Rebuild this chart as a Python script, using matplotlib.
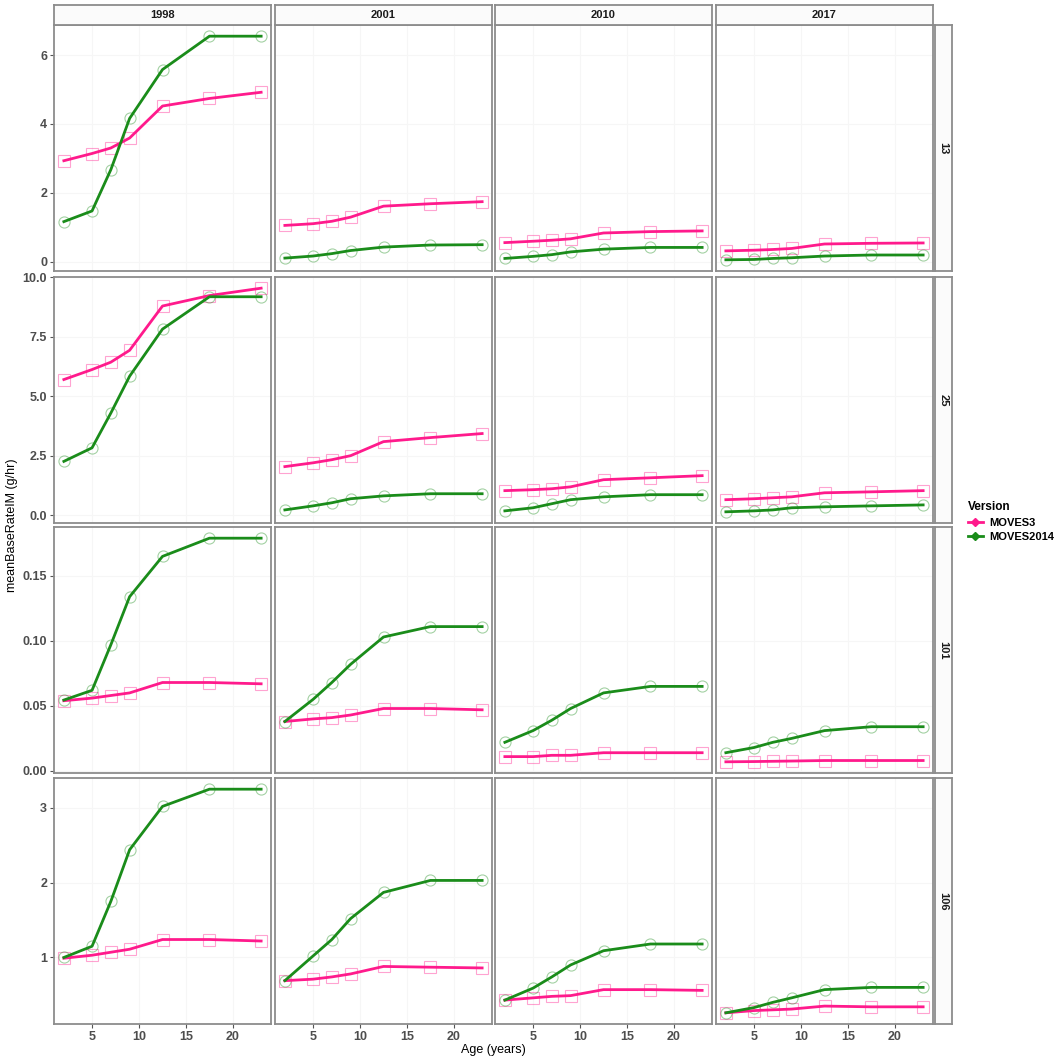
import matplotlib
matplotlib.use("Agg")
import matplotlib.pyplot as plt
from matplotlib.lines import Line2D
from matplotlib.ticker import FormatStrFormatter

plt.rcParams['font.family'] = ['Liberation Sans', 'DejaVu Sans']

# age group (x) and facet labels
ages = [2, 5, 7, 9, 12.5, 17.5, 23]
years = ['1998', '2001', '2010', '2017']
rows = ['13', '25', '101', '106']

# MOVES3 values, one list per model year (1998, 2001, 2010, 2017)
m3_13 = [[2.93, 3.14, 3.30, 3.59, 4.52, 4.74, 4.92],
         [1.05, 1.10, 1.17, 1.29, 1.61, 1.68, 1.74],
         [0.55, 0.59, 0.62, 0.66, 0.83, 0.87, 0.89],
         [0.31, 0.33, 0.35, 0.38, 0.51, 0.53, 0.54]]
m3_25 = [[5.70, 6.12, 6.43, 6.93, 8.79, 9.23, 9.54],
         [2.04, 2.20, 2.33, 2.50, 3.09, 3.26, 3.43],
         [1.03, 1.07, 1.11, 1.19, 1.49, 1.57, 1.66],
         [0.65, 0.69, 0.73, 0.77, 0.94, 0.98, 1.03]]
m3_101 = [[0.054, 0.056, 0.058, 0.060, 0.068, 0.068, 0.067],
          [0.038, 0.040, 0.041, 0.043, 0.048, 0.048, 0.047],
          [0.011, 0.011, 0.012, 0.012, 0.014, 0.014, 0.014],
          [0.007, 0.0072, 0.0074, 0.0076, 0.008, 0.008, 0.008]]
m3_106 = [[0.99, 1.03, 1.07, 1.11, 1.24, 1.24, 1.22],
          [0.69, 0.71, 0.74, 0.78, 0.88, 0.87, 0.86],
          [0.43, 0.46, 0.48, 0.49, 0.57, 0.57, 0.56],
          [0.26, 0.29, 0.30, 0.31, 0.35, 0.34, 0.34]]

# MOVES2014 values
m14_13 = [[1.16, 1.47, 2.67, 4.16, 5.58, 6.55, 6.55],
          [0.10, 0.16, 0.23, 0.32, 0.42, 0.48, 0.49],
          [0.09, 0.15, 0.20, 0.28, 0.36, 0.41, 0.41],
          [0.05, 0.06, 0.09, 0.11, 0.16, 0.19, 0.19]]
m14_25 = [[2.26, 2.83, 4.29, 5.84, 7.82, 9.18, 9.18],
          [0.22, 0.39, 0.52, 0.69, 0.81, 0.90, 0.90],
          [0.18, 0.31, 0.48, 0.65, 0.77, 0.86, 0.86],
          [0.14, 0.18, 0.22, 0.31, 0.35, 0.39, 0.43]]
m14_101 = [[0.0545, 0.062, 0.097, 0.134, 0.165, 0.179, 0.179],
           [0.038, 0.055, 0.068, 0.082, 0.103, 0.111, 0.111],
           [0.022, 0.031, 0.039, 0.048, 0.060, 0.065, 0.065],
           [0.014, 0.018, 0.022, 0.025, 0.031, 0.034, 0.034]]
m14_106 = [[1.00, 1.15, 1.75, 2.44, 3.02, 3.25, 3.25],
           [0.69, 1.02, 1.24, 1.52, 1.87, 2.03, 2.03],
           [0.43, 0.59, 0.74, 0.90, 1.09, 1.18, 1.18],
           [0.26, 0.33, 0.40, 0.46, 0.57, 0.60, 0.60]]

m3_rows = [m3_13, m3_25, m3_101, m3_106]
m14_rows = [m14_13, m14_25, m14_101, m14_106]

yticks = [[0, 2, 4, 6], [0, 2.5, 5, 7.5, 10], [0, 0.05, 0.10, 0.15], [1, 2, 3]]
yfmt = ['%g', '%.1f', '%.2f', '%g']

pink = '#ff1a8c'
green = '#1a8c1a'
border = '#8c8c8c'

W = H = 1059.0
fig = plt.figure(figsize=(10.59, 10.59), dpi=100)

col_left = [54, 275, 495, 716]
row_top = [25, 277, 527, 778]
pw, ph = 217, 246


def px_axes(x, y, w, h):
    # axes from pixel box (top-left origin)
    return fig.add_axes([x / W, 1 - (y + h) / H, w / W, h / H])


xmin, xmax = min(ages), max(ages)
xpad = (xmax - xmin) * 0.05

for r in range(4):
    allv = [v for lst in m3_rows[r] + m14_rows[r] for v in lst]
    lo, hi = min(allv), max(allv)
    pad = (hi - lo) * 0.05
    for c in range(4):
        ax = px_axes(col_left[c], row_top[r], pw, ph)
        ax.plot(ages, m3_rows[r][c], color=pink, lw=2, zorder=3)
        ax.plot(ages, m3_rows[r][c], ls='none', marker='s', ms=8, mfc='none',
                mec=pink, mew=0.8, alpha=0.4, zorder=2)
        ax.plot(ages, m14_rows[r][c], color=green, lw=2, zorder=3)
        ax.plot(ages, m14_rows[r][c], ls='none', marker='o', ms=8, mfc='none',
                mec=green, mew=0.8, alpha=0.4, zorder=2)
        ax.set_xlim(xmin - xpad, xmax + xpad)
        ax.set_ylim(lo - pad, hi + pad)
        ax.set_xticks([5, 10, 15, 20])
        ax.set_yticks(yticks[r])
        ax.yaxis.set_major_formatter(FormatStrFormatter(yfmt[r]))
        ax.grid(True, color='#f6f6f6', lw=0.8)
        ax.set_axisbelow(True)
        for s in ax.spines.values():
            s.set_color(border)
            s.set_linewidth(1.3)
        ax.tick_params(length=3, width=0.8, color='#555555', labelsize=9,
                       labelcolor='#4d4d4d', pad=2)
        for lab in ax.get_xticklabels() + ax.get_yticklabels():
            lab.set_fontweight('bold')
        if c != 0:
            ax.tick_params(axis='y', left=False, labelleft=False)
        if r != 3:
            ax.tick_params(axis='x', bottom=False, labelbottom=False)

# column strips
for c in range(4):
    sa = px_axes(col_left[c], 5, pw, 20)
    sa.set_facecolor('#fbfbfb')
    sa.set_xticks([])
    sa.set_yticks([])
    for s in sa.spines.values():
        s.set_color(border)
        s.set_linewidth(1.3)
    sa.text(0.5, 0.5, years[c], ha='center', va='center', fontsize=8,
            fontweight='bold', color='#1a1a1a', transform=sa.transAxes)

# row strips
for r in range(4):
    sa = px_axes(935, row_top[r], 17, ph)
    sa.set_facecolor('#fbfbfb')
    sa.set_xticks([])
    sa.set_yticks([])
    for s in sa.spines.values():
        s.set_color(border)
        s.set_linewidth(1.3)
    sa.text(0.5, 0.5, rows[r], ha='center', va='center', fontsize=8,
            fontweight='bold', color='#1a1a1a', rotation=-90, transform=sa.transAxes)

fig.text(493 / W, 1 - 1050 / H, 'Age (years)', ha='center', va='center', fontsize=9)
fig.text(12 / W, 1 - 525 / H, 'meanBaseRateIM (g/hr)', ha='center', va='center',
         fontsize=9, rotation=90)

handles = [Line2D([0], [0], color=pink, lw=2, marker='D', ms=4),
           Line2D([0], [0], color=green, lw=2, marker='D', ms=4)]
leg = fig.legend(handles, ['MOVES3', 'MOVES2014'], title='Version',
                 loc='upper left', bbox_to_anchor=(966 / W, 1 - 499 / H),
                 frameon=False, fontsize=8, title_fontsize=8.5,
                 handlelength=1.3, handletextpad=0.6, labelspacing=0.4,
                 borderaxespad=0, borderpad=0.2)
leg._legend_box.align = 'left'
leg.get_title().set_fontweight('bold')
for t in leg.get_texts():
    t.set_fontweight('bold')

fig.savefig('out.png', dpi=100)
